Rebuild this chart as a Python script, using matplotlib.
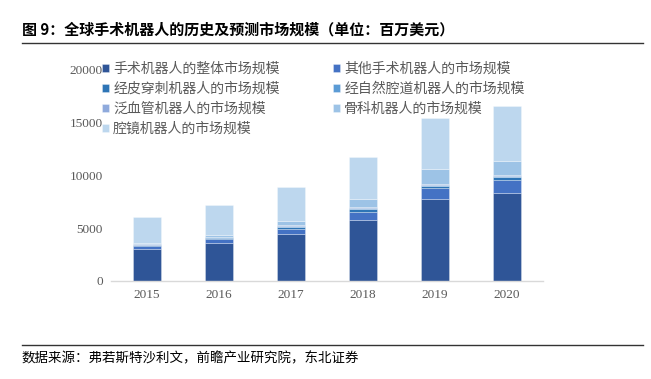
import numpy as np
import matplotlib
matplotlib.use("Agg")
import matplotlib.pyplot as plt

plt.rcParams['font.family'] = ['Noto Sans CJK SC', 'DejaVu Sans']

years = ["2015", "2016", "2017", "2018", "2019", "2020"]

series_names = [
    "手术机器人的整体市场规模",
    "其他手术机器人的市场规模",
    "经皮穿刺机器人的市场规模",
    "经自然腔道机器人的市场规模",
    "泛血管机器人的市场规模",
    "骨科机器人的市场规模",
    "腔镜机器人的市场规模",
]
overall   = [2980, 3550, 4400, 5790, 7725, 8295]
other     = [320, 380, 530, 760, 1045, 1265]
percut    = [70, 130, 200, 250, 245, 300]
natural   = [30, 60, 60, 70, 70, 80]
vascular  = [40, 40, 60, 80, 100, 110]
ortho     = [140, 180, 440, 800, 1415, 1310]
endoscope = [2420, 2820, 3170, 3960, 4815, 5250]

series = [overall, other, percut, natural, vascular, ortho, endoscope]
colors = ["#2F5597", "#4472C4", "#2E75B6", "#5B9BD5", "#8FAADC", "#9DC3E6", "#BDD7EE"]

fig = plt.figure(figsize=(6.51, 3.79), dpi=100)
ax = fig.add_axes([111 / 651, 1 - 280.7 / 379, 432 / 651, (280.7 - 70) / 379])

x = np.arange(len(years))
bottom = np.zeros(len(years))
handles = []
for name, vals, c in zip(series_names, series, colors):
    b = ax.bar(x, vals, 0.4, bottom=bottom, color=c, label=name,
               edgecolor=(1, 1, 1, 0.35), linewidth=0.6)
    handles.append(b)
    bottom += np.array(vals)

ax.set_xlim(-0.5, len(years) - 0.5)
ax.set_ylim(0, 20000)
ax.set_yticks([0, 5000, 10000, 15000, 20000])
ax.set_xticks(x)
ax.set_xticklabels(years)
for lab in ax.get_xticklabels() + ax.get_yticklabels():
    lab.set_family("Liberation Serif")
    lab.set_fontsize(9.5)
    lab.set_color("#595959")
ax.tick_params(axis="both", length=0, pad=6)
for s in ["top", "right", "left"]:
    ax.spines[s].set_visible(False)
ax.spines["bottom"].set_color("#D9D9D9")
ax.spines["bottom"].set_linewidth(1.0)

# legend fills row-wise in the reference, matplotlib fills column-wise
order = [0, 2, 4, 6, 1, 3, 5]
leg = ax.legend([handles[i] for i in order], [series_names[i] for i in order],
                ncol=2, loc="upper left", bbox_to_anchor=(102 / 651, 1 - 62 / 379),
                bbox_transform=fig.transFigure, frameon=False, fontsize=10,
                handlelength=0.5, handleheight=0.5, handletextpad=0.3,
                labelspacing=0.42, columnspacing=3.85, borderpad=0, borderaxespad=0)
for t in leg.get_texts():
    t.set_color("#595959")

fig.text(22 / 651, 1 - 30 / 379, "图 9：全球手术机器人的历史及预测市场规模（单位：百万美元）",
         fontsize=10.8, fontweight="bold", va="center", ha="left", color="#000000")
fig.add_artist(plt.Line2D([22 / 651, 643 / 651], [1 - 43 / 379, 1 - 43 / 379],
                          color="#333333", linewidth=1.0))
fig.add_artist(plt.Line2D([22 / 651, 643 / 651], [1 - 345 / 379, 1 - 345 / 379],
                          color="#333333", linewidth=1.0))
fig.text(22 / 651, 1 - 358 / 379, "数据来源：弗若斯特沙利文，前瞻产业研究院，东北证券",
         fontsize=9.7, va="center", ha="left", color="#000000")

fig.savefig("out.png", dpi=100)
